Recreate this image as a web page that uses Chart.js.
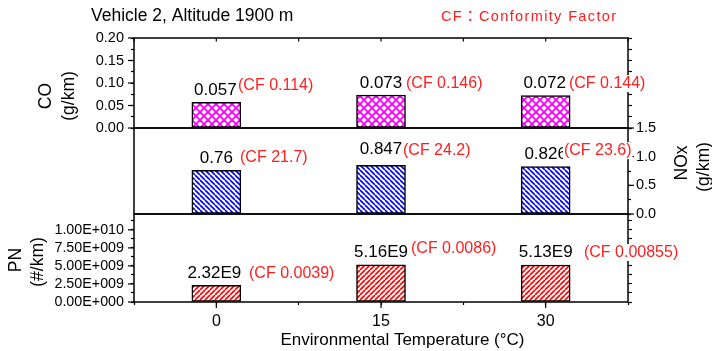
<!DOCTYPE html>
<html><head><meta charset="utf-8">
<script src="https://cdn.jsdelivr.net/npm/chart.js@4.4.0/dist/chart.umd.min.js"></script>
<style>
html,body{margin:0;padding:0;background:#fff;}
#wrap{position:relative;width:712px;height:351px;overflow:hidden;}
#wrap canvas{position:absolute;left:0;top:0;}
</style></head>
<body><div id="wrap">
<canvas id="c3" width="712" height="351"></canvas>
<canvas id="c2" width="712" height="351"></canvas>
<canvas id="c1" width="712" height="351"></canvas>
</div>
<script>
// ---------------- data ----------------
const temps = [0, 15, 30];
const xTickLabels = ['0', '15', '30'];
const coValues = [0.057, 0.073, 0.072];
const noxValues = [0.76, 0.847, 0.826];
const pnValues = [2.32e9, 5.16e9, 5.13e9];
const coText = ['0.057', '0.073', '0.072'];
const noxText = ['0.76', '0.847', '0.826'];
const pnText = ['2.32E9', '5.16E9', '5.13E9'];
const coCF = ['(CF 0.114)', '(CF 0.146)', '(CF 0.144)'];
const noxCF = ['(CF 21.7)', '(CF 24.2)', '(CF 23.6)'];
const pnCF = ['(CF 0.0039)', '(CF 0.0086)', '(CF 0.00855)'];
const pnTickValues = [0, 1.25e9, 2.5e9, 3.75e9, 5e9, 6.25e9, 7.5e9, 8.75e9, 1e10, 1.125e10];
const pnTickLabels = ['0.00E+000', '', '2.50E+009', '', '5.00E+009', '', '7.50E+009', '', '1.00E+010', ''];
const titleText = 'Vehicle 2, Altitude 1900 m';
const cfNote = 'CF\uFF1AConformity Factor';
const xTitle = 'Environmental Temperature (\u00B0C)';

// ---------------- style ----------------
const FONT = "'Liberation Sans', Arial, Helvetica, sans-serif";
const RED = '#ff1e1e';
Chart.defaults.font.family = FONT;
Chart.defaults.color = '#000';

// label placement (style): gap above bar top for value label; CF label dx from bar centre, dy from value baseline
const labelStyle = {
  co:  {gap: [7.5, 7.5, 7.5], vdx: [-1, 0, -1], cf: [[21.7, -5], [25, 0], [23.3, 0]]},
  nox: {gap: [7.5, 11.5, 7.5], vdx: [0, 0, 0], cf: [[23.7, -1], [22, 1], [18.3, -4]]},
  pn:  {gap: [7.5, 8, 8], vdx: [-2, 0, 0], cf: [[32.7, 0], [30, -3.5], [38.3, 0]]}
};
const MINOR = 3, MAJOR = 6;

function hatch(ctx, size, color, lw, dirs) {
  const c = document.createElement('canvas');
  c.width = c.height = size;
  const g = c.getContext('2d');
  g.fillStyle = '#fff'; g.fillRect(0, 0, size, size);
  g.strokeStyle = color; g.lineWidth = lw;
  for (const d of dirs) {
    for (const k of [-size, 0, size]) {
      g.beginPath();
      if (d === '\\') { g.moveTo(k, 0); g.lineTo(k + size, size); }
      else { g.moveTo(k, size); g.lineTo(k + size, 0); }
      g.stroke();
    }
  }
  return ctx.createPattern(c, 'repeat');
}

function every(step, fmt) {
  return function (v) { const r = v / step; return Math.abs(r - Math.round(r)) < 1e-6 ? fmt(v) : ''; };
}

const tickGrid = (len) => ({drawOnChartArea: false, drawTicks: true, tickLength: len, color: '#000', tickColor: '#000', tickWidth: 1.2, offset: false});

function rotText(ctx, txt, x, y, size) {
  ctx.save();
  ctx.translate(x, y); ctx.rotate(-Math.PI / 2);
  ctx.font = size + 'px ' + FONT; ctx.fillStyle = '#000';
  ctx.textAlign = 'center'; ctx.textBaseline = 'middle';
  ctx.fillText(txt, 0, 0);
  ctx.restore();
}

// lengthen the ticks that carry a label (major ticks)
function majorTicks(ctx, chart, ids) {
  const a = chart.chartArea;
  ctx.lineWidth = 1.2; ctx.strokeStyle = '#000';
  ids.forEach(id => {
    const s = chart.scales[id];
    s.ticks.forEach(t => {
      if (!t.label) return;
      const p = s.getPixelForValue(t.value);
      ctx.beginPath();
      if (s.position === 'left') { ctx.moveTo(a.left, p); ctx.lineTo(a.left - MAJOR, p); }
      else if (s.position === 'right') { ctx.moveTo(a.right, p); ctx.lineTo(a.right + MAJOR, p); }
      else { ctx.moveTo(p, a.bottom); ctx.lineTo(p, a.bottom + MAJOR); }
      ctx.stroke();
    });
  });
}

function decoPlugin(opts) {
  return {
    id: 'deco',
    afterDraw(chart) {
      const ctx = chart.ctx, a = chart.chartArea;
      ctx.save();
      ctx.strokeStyle = '#000'; ctx.lineWidth = 1.5;
      ctx.strokeRect(a.left, a.top, a.right - a.left, a.bottom - a.top);
      majorTicks(ctx, chart, opts.majors || []);
      if (opts.topTicks) {
        const xs = chart.scales.x;
        ctx.lineWidth = 1.2;
        xs.ticks.forEach(t => {
          const px = xs.getPixelForValue(t.value);
          ctx.beginPath(); ctx.moveTo(px, a.top); ctx.lineTo(px, a.top + 3.5); ctx.stroke();
        });
      }
      const meta = chart.getDatasetMeta(0);
      const st = opts.style;
      meta.data.forEach((el, i) => {
        const base = el.y - st.gap[i];
        ctx.font = '17px ' + FONT; ctx.fillStyle = '#000';
        ctx.textAlign = 'center'; ctx.textBaseline = 'alphabetic';
        ctx.fillText(opts.text[i], el.x + st.vdx[i], base);
        ctx.font = '16px ' + FONT;
        const w = ctx.measureText(opts.cf[i]).width;
        const cx = el.x + st.cf[i][0], cy = base + st.cf[i][1];
        ctx.fillStyle = '#fff';
        ctx.fillRect(cx - 1, cy - 13, w + 2, 17);
        ctx.fillStyle = RED; ctx.textAlign = 'left';
        ctx.fillText(opts.cf[i], cx, cy);
      });
      if (opts.extra) opts.extra(ctx, chart);
      ctx.restore();
    }
  };
}

function barDataset(values, pattern, axis) {
  return {
    data: temps.map((t, i) => ({x: t, y: values[i]})),
    backgroundColor: pattern, borderColor: '#000', borderWidth: 1.5,
    borderSkipped: false, barThickness: 49, yAxisID: axis
  };
}

const baseOpts = {responsive: false, animation: false, events: [],
  plugins: {legend: {display: false}, tooltip: {enabled: false}, title: {display: false}}};

const xHidden = {type: 'linear', min: -7.5, max: 37.5, offset: false, display: false, ticks: {stepSize: 7.5}, grid: {offset: false}};

// ---------------- chart 1 : CO ----------------
const ctx1 = document.getElementById('c1').getContext('2d');
new Chart(ctx1, {
  type: 'bar',
  data: {datasets: [barDataset(coValues, hatch(ctx1, 8, '#ff00ff', 1.9, ['\\', '/']), 'y')]},
  options: Object.assign({}, baseOpts, {
    layout: {padding: {top: 38, bottom: 223, left: 0, right: 0}},
    scales: {
      x: xHidden,
      y: {type: 'linear', position: 'left', min: 0, max: 0.2,
        ticks: {stepSize: 0.025, autoSkip: false, padding: 7, font: {size: 14.5}, callback: every(0.05, v => v.toFixed(2))},
        grid: tickGrid(MINOR), border: {display: false}, afterFit(s) { s.width = 134; }},
      y2: {type: 'linear', position: 'right', min: 0, max: 0.2,
        ticks: {stepSize: 0.025, autoSkip: false, display: false},
        grid: tickGrid(4), border: {display: false}, afterFit(s) { s.width = 84; }}
    }
  }),
  plugins: [decoPlugin({topTicks: true, majors: ['y'], style: labelStyle.co, text: coText, cf: coCF,
    extra(ctx) {
      ctx.fillStyle = '#000'; ctx.textAlign = 'left'; ctx.textBaseline = 'alphabetic';
      ctx.font = '17.5px ' + FONT;
      ctx.fillText(titleText, 91, 20.5);
      // CF note: Latin from Liberation, full-width colon from Noto CJK, spaced to reference width
      ctx.font = "14.5px 'Liberation Sans', 'Noto Sans CJK JP', sans-serif";
      ctx.letterSpacing = '0px';
      const w0 = ctx.measureText(cfNote).width;
      const sp = (175 - w0) / (cfNote.length - 1);
      ctx.letterSpacing = sp.toFixed(2) + 'px';
      ctx.fillStyle = RED;
      ctx.fillText(cfNote, 441, 21);
      ctx.letterSpacing = '0px';
      rotText(ctx, 'CO', 46, 96, 17.5);
      rotText(ctx, '(g/km)', 69, 96, 17.5);
    }})]
});

// ---------------- chart 2 : NOx ----------------
const ctx2 = document.getElementById('c2').getContext('2d');
new Chart(ctx2, {
  type: 'bar',
  data: {datasets: [barDataset(noxValues, hatch(ctx2, 5, '#0000ff', 1.6, ['\\']), 'yn')]},
  options: Object.assign({}, baseOpts, {
    layout: {padding: {top: 128, bottom: 137, left: 134, right: 0}},
    scales: {
      x: xHidden,
      yn: {type: 'linear', position: 'right', min: 0, max: 1.5,
        ticks: {stepSize: 0.25, autoSkip: false, padding: 5, font: {size: 14.5}, callback: every(0.5, v => v.toFixed(1))},
        grid: tickGrid(MINOR), border: {display: false}, afterFit(s) { s.width = 84; }}
    }
  }),
  plugins: [decoPlugin({majors: ['yn'], style: labelStyle.nox, text: noxText, cf: noxCF,
    extra(ctx) {
      rotText(ctx, 'NOx', 682, 163, 17.5);
      rotText(ctx, '(g/km)', 704, 167, 17.5);
    }})]
});

// ---------------- chart 3 : PN ----------------
const ctx3 = document.getElementById('c3').getContext('2d');
const pnTicks = (s) => { s.ticks = pnTickValues.map(v => ({value: v})); };
new Chart(ctx3, {
  type: 'bar',
  data: {datasets: [barDataset(pnValues, hatch(ctx3, 5, '#ff0000', 1.6, ['/']), 'y')]},
  options: Object.assign({}, baseOpts, {
    layout: {padding: {top: 214, bottom: 0, left: 0, right: 0}},
    scales: {
      x: {type: 'linear', position: 'bottom', min: -7.5, max: 37.5, offset: false,
        ticks: {stepSize: 7.5, autoSkip: false, maxRotation: 0, padding: 7, font: {size: 16},
          callback: v => { const k = temps.indexOf(v); return k >= 0 ? xTickLabels[k] : ''; }},
        grid: tickGrid(MINOR), border: {display: false}, afterFit(s) { s.height = 49; }},
      y: {type: 'linear', position: 'left', min: 0, max: 1.22e10, afterBuildTicks: pnTicks,
        ticks: {autoSkip: false, padding: 7, font: {size: 14.3}, callback: (v, i) => pnTickLabels[i]},
        grid: tickGrid(MINOR), border: {display: false}, afterFit(s) { s.width = 134; }},
      y2: {type: 'linear', position: 'right', min: 0, max: 1.22e10, afterBuildTicks: pnTicks,
        ticks: {autoSkip: false, display: false},
        grid: tickGrid(4), border: {display: false}, afterFit(s) { s.width = 84; }}
    }
  }),
  plugins: [decoPlugin({majors: ['x', 'y'], style: labelStyle.pn, text: pnText, cf: pnCF,
    extra(ctx) {
      rotText(ctx, 'PN', 16, 260, 17.5);
      rotText(ctx, '(#/km)', 38, 262, 17.5);
      ctx.font = '17px ' + FONT; ctx.fillStyle = '#000';
      ctx.textAlign = 'center'; ctx.textBaseline = 'middle';
      ctx.fillText(xTitle, 402.5, 340);
    }})]
});
</script>
</body></html>
